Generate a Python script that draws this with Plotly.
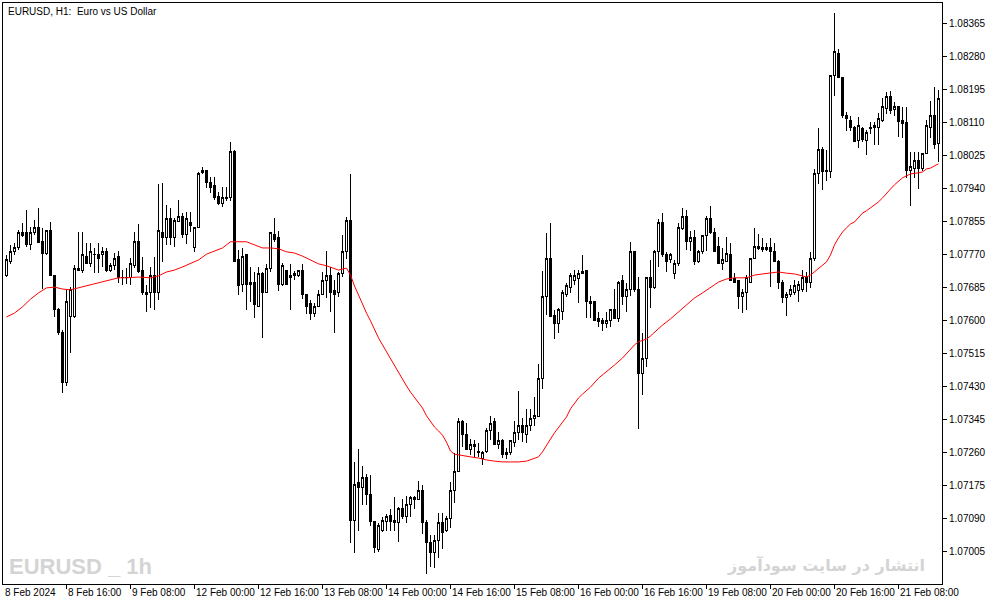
import pandas as pd
import plotly.graph_objects as go

# ---- data (EURUSD H1) ----
OPEN = [1.07717,1.07753,1.07777,1.07788,1.07828,1.07826,1.07795,1.07826,1.07841,1.07803,
        1.07774,1.07831,1.07717,1.07629,1.07570,1.07439,1.07609,1.07609,1.07730,1.07730,
        1.07766,1.07748,1.07771,1.07771,1.07769,1.07777,1.07730,1.07743,1.07764,1.07712,
        1.07710,1.07710,1.07743,1.07803,1.07728,1.07671,1.07671,1.07717,1.07673,1.07828,
        1.07815,1.07864,1.07815,1.07854,1.07867,1.07823,1.07852,1.07787,1.07841,1.07981,
        1.07988,1.07957,1.07947,1.07919,1.07901,1.07916,1.07916,1.08035,1.07756,1.07694,
        1.07769,1.07694,1.07699,1.07637,1.07722,1.07673,1.07733,1.07823,1.07813,1.07692,
        1.07730,1.07715,1.07720,1.07715,1.07730,1.07666,1.07645,1.07619,1.07637,1.07666,
        1.07704,1.07715,1.07676,1.07671,1.07722,1.07779,1.07857,1.07083,1.07181,1.07168,
        1.07194,1.07152,1.07080,1.07008,1.07057,1.07080,1.07098,1.07083,1.07078,1.07114,
        1.07093,1.07124,1.07142,1.07139,1.07162,1.07078,1.07026,1.07000,1.07033,1.07078,
        1.07057,1.07088,1.07162,1.07209,1.07338,1.07307,1.07268,1.07281,1.07263,1.07243,
        1.07261,1.07315,1.07338,1.07279,1.07291,1.07258,1.07258,1.07286,1.07310,1.07328,
        1.07307,1.07328,1.07348,1.07351,1.07449,1.07661,1.07761,1.07614,1.07593,1.07624,
        1.07668,1.07686,1.07702,1.07707,1.07725,1.07728,1.07648,1.07648,1.07604,1.07599,
        1.07591,1.07601,1.07627,1.07606,1.07702,1.07661,1.07679,1.07777,1.07681,1.07464,
        1.07501,1.07712,1.07684,1.07777,1.07852,1.07769,1.07756,1.07722,1.07748,1.07836,
        1.07867,1.07803,1.07813,1.07753,1.07777,1.07818,1.07864,1.07828,1.07790,1.07748,
        1.07753,1.07769,1.07707,1.07702,1.07663,1.07673,1.07697,1.07761,1.07790,1.07787,
        1.07787,1.07787,1.07779,1.07753,1.07697,1.07658,1.07668,1.07673,1.07676,1.07679,
        1.07710,1.07697,1.07759,1.07978,1.08040,1.07988,1.07983,1.08231,1.08290,1.08228,
        1.08130,1.08117,1.08099,1.08063,1.08094,1.08063,1.08094,1.08102,1.08099,1.08117,
        1.08148,1.08179,1.08143,1.08151,1.08117,1.08110,1.07988,1.07993,1.08012,1.07993,
        1.08032,1.08099,1.08130,1.08056]
HIGH = [1.07769,1.07795,1.07800,1.07833,1.07851,1.07885,1.07841,1.07859,1.07890,1.07839,
        1.07833,1.07854,1.07717,1.07632,1.07575,1.07679,1.07686,1.07743,1.07828,1.07828,
        1.07800,1.07800,1.07787,1.07800,1.07790,1.07787,1.07748,1.07774,1.07779,1.07730,
        1.07735,1.07761,1.07828,1.07849,1.07764,1.07692,1.07738,1.07764,1.07952,1.07955,
        1.07898,1.07890,1.07864,1.07911,1.07877,1.07880,1.07880,1.07839,1.07983,1.07996,
        1.07988,1.07970,1.07970,1.07932,1.07944,1.07944,1.08061,1.08040,1.07782,1.07787,
        1.07769,1.07738,1.07725,1.07738,1.07725,1.07746,1.07826,1.07864,1.07831,1.07748,
        1.07730,1.07746,1.07728,1.07730,1.07746,1.07666,1.07653,1.07645,1.07679,1.07725,
        1.07779,1.07738,1.07704,1.07725,1.07821,1.07867,1.07978,1.07235,1.07268,1.07224,
        1.07204,1.07201,1.07083,1.07078,1.07093,1.07101,1.07114,1.07145,1.07119,1.07140,
        1.07147,1.07147,1.07147,1.07186,1.07175,1.07085,1.07046,1.07046,1.07103,1.07103,
        1.07096,1.07183,1.07258,1.07348,1.07343,1.07335,1.07294,1.07291,1.07284,1.07263,
        1.07323,1.07353,1.07348,1.07312,1.07294,1.07271,1.07291,1.07341,1.07418,1.07348,
        1.07372,1.07372,1.07403,1.07488,1.07728,1.07826,1.07852,1.07627,1.07632,1.07679,
        1.07697,1.07722,1.07730,1.07730,1.07769,1.07728,1.07663,1.07648,1.07622,1.07606,
        1.07622,1.07627,1.07681,1.07702,1.07717,1.07697,1.07803,1.07779,1.07712,1.07568,
        1.07712,1.07756,1.07782,1.07862,1.07877,1.07777,1.07774,1.07756,1.07852,1.07890,
        1.07885,1.07831,1.07833,1.07782,1.07818,1.07870,1.07895,1.07839,1.07815,1.07787,
        1.07815,1.07800,1.07722,1.07702,1.07681,1.07717,1.07761,1.07839,1.07823,1.07813,
        1.07800,1.07813,1.07800,1.07756,1.07704,1.07673,1.07692,1.07704,1.07702,1.07730,
        1.07725,1.07777,1.07991,1.08097,1.08048,1.08040,1.08231,1.08393,1.08301,1.08228,
        1.08138,1.08128,1.08102,1.08125,1.08099,1.08092,1.08112,1.08112,1.08135,1.08174,
        1.08190,1.08192,1.08164,1.08151,1.08151,1.08151,1.08035,1.08035,1.08035,1.08032,
        1.08117,1.08166,1.08202,1.08195]
LOW = [1.07712,1.07746,1.07769,1.07782,1.07815,1.07790,1.07782,1.07820,1.07800,1.07681,
       1.07769,1.07717,1.07609,1.07562,1.07413,1.07431,1.07516,1.07606,1.07730,1.07722,
       1.07746,1.07738,1.07722,1.07722,1.07738,1.07725,1.07725,1.07730,1.07697,1.07692,
       1.07694,1.07692,1.07735,1.07722,1.07666,1.07622,1.07632,1.07627,1.07653,1.07751,
       1.07795,1.07795,1.07790,1.07854,1.07813,1.07797,1.07828,1.07777,1.07841,1.07978,
       1.07942,1.07929,1.07911,1.07898,1.07893,1.07908,1.07908,1.07753,1.07666,1.07673,
       1.07627,1.07648,1.07606,1.07637,1.07555,1.07673,1.07725,1.07803,1.07676,1.07689,
       1.07692,1.07627,1.07704,1.07712,1.07655,1.07617,1.07601,1.07609,1.07635,1.07666,
       1.07658,1.07622,1.07568,1.07661,1.07712,1.07759,1.07026,1.07000,1.07057,1.07124,
       1.07124,1.07070,1.07000,1.07003,1.07054,1.07057,1.07057,1.07057,1.07028,1.07088,
       1.07078,1.07093,1.07114,1.07137,1.07049,1.06946,1.06964,1.06961,1.06987,1.07010,
       1.07054,1.07065,1.07129,1.07209,1.07274,1.07266,1.07253,1.07248,1.07248,1.07227,
       1.07258,1.07291,1.07279,1.07268,1.07245,1.07243,1.07253,1.07274,1.07291,1.07286,
       1.07284,1.07315,1.07328,1.07351,1.07423,1.07614,1.07609,1.07552,1.07568,1.07601,
       1.07661,1.07671,1.07692,1.07645,1.07722,1.07606,1.07606,1.07599,1.07583,1.07573,
       1.07581,1.07583,1.07606,1.07596,1.07640,1.07622,1.07663,1.07673,1.07320,1.07408,
       1.07480,1.07632,1.07681,1.07738,1.07764,1.07725,1.07748,1.07707,1.07741,1.07833,
       1.07782,1.07779,1.07743,1.07748,1.07771,1.07779,1.07823,1.07779,1.07746,1.07730,
       1.07753,1.07702,1.07699,1.07630,1.07619,1.07627,1.07697,1.07761,1.07782,1.07777,
       1.07779,1.07686,1.07751,1.07681,1.07645,1.07612,1.07661,1.07666,1.07648,1.07673,
       1.07673,1.07684,1.07753,1.07952,1.07937,1.07960,1.07968,1.08179,1.08226,1.08122,
       1.08089,1.08089,1.08061,1.08045,1.08061,1.08027,1.08081,1.08053,1.08053,1.08112,
       1.08133,1.08133,1.08128,1.08073,1.08071,1.07968,1.07895,1.07968,1.07939,1.07986,
       1.08030,1.08071,1.08043,1.08009]
CLOSE = [1.07756,1.07777,1.07788,1.07828,1.07820,1.07797,1.07828,1.07841,1.07800,1.07774,
         1.07831,1.07717,1.07629,1.07568,1.07439,1.07650,1.07679,1.07733,1.07735,1.07769,
         1.07748,1.07779,1.07769,1.07761,1.07777,1.07730,1.07743,1.07761,1.07712,1.07710,
         1.07712,1.07746,1.07803,1.07725,1.07671,1.07668,1.07717,1.07673,1.07831,1.07815,
         1.07864,1.07815,1.07857,1.07867,1.07823,1.07862,1.07844,1.07839,1.07978,1.07986,
         1.07955,1.07944,1.07916,1.07903,1.07916,1.07914,1.08035,1.07753,1.07689,1.07766,
         1.07694,1.07699,1.07640,1.07722,1.07673,1.07733,1.07826,1.07810,1.07694,1.07743,
         1.07694,1.07712,1.07715,1.07728,1.07668,1.07637,1.07617,1.07637,1.07666,1.07704,
         1.07715,1.07673,1.07668,1.07722,1.07779,1.07857,1.07083,1.07178,1.07168,1.07194,
         1.07150,1.07080,1.07013,1.07072,1.07085,1.07093,1.07080,1.07078,1.07116,1.07093,
         1.07124,1.07142,1.07139,1.07162,1.07078,1.07026,1.07000,1.07033,1.07078,1.07054,
         1.07088,1.07162,1.07209,1.07338,1.07307,1.07268,1.07279,1.07274,1.07258,1.07258,
         1.07317,1.07335,1.07281,1.07291,1.07255,1.07255,1.07289,1.07310,1.07328,1.07310,
         1.07330,1.07346,1.07354,1.07449,1.07663,1.07759,1.07609,1.07593,1.07627,1.07673,
         1.07689,1.07715,1.07715,1.07720,1.07722,1.07648,1.07645,1.07601,1.07596,1.07593,
         1.07601,1.07627,1.07606,1.07699,1.07661,1.07681,1.07777,1.07679,1.07464,1.07503,
         1.07712,1.07684,1.07779,1.07852,1.07769,1.07751,1.07769,1.07748,1.07839,1.07867,
         1.07803,1.07813,1.07753,1.07777,1.07818,1.07864,1.07828,1.07779,1.07748,1.07756,
         1.07774,1.07704,1.07699,1.07663,1.07673,1.07710,1.07761,1.07790,1.07785,1.07782,
         1.07782,1.07777,1.07753,1.07697,1.07658,1.07668,1.07679,1.07689,1.07692,1.07710,
         1.07697,1.07759,1.07978,1.08040,1.07983,1.07983,1.08231,1.08293,1.08226,1.08128,
         1.08120,1.08097,1.08061,1.08102,1.08066,1.08086,1.08099,1.08097,1.08120,1.08151,
         1.08179,1.08141,1.08151,1.08112,1.08107,1.07988,1.07996,1.08012,1.07993,1.08030,
         1.08102,1.08130,1.08053,1.08172]

# moving-average line read at these bars
MA_BAR = [0,2,4,6,8,10,12,14,16,18,20,22,24,26,28,30,33,36,38,40,42,44,46,48,50,52,54,56,58,60,
          62,64,66,68,70,72,74,76,78,80,82,83,85,86,87,88,89,90,91,92,93,94,95,96,97,98,99,100,
          101,102,103,104,105,106,107,108,109,110,111,112,113,114,116,118,120,122,124,126,128,130,
          132,133,134,135,136,137,138,139,140,141,142,143,144,146,148,150,152,154,156,157,158,160,
          161,162,164,166,168,170,172,174,176,178,180,182,185,187,189,191,193,195,197,199,200,201,
          202,203,204,205,206,207,208,209,210,211,212,213,214,215,216,217,218,219,220,221,222,223,
          224,225,226,228,229,230,231,232,233]
MA_VALUE = [1.07609,1.07619,1.07635,1.07655,1.07671,1.07684,1.07686,1.07681,1.07679,1.07684,
            1.07689,1.07694,1.07699,1.07704,1.07710,1.07710,1.07712,1.07710,1.07715,1.07725,
            1.07730,1.07738,1.07746,1.07756,1.07771,1.07779,1.07787,1.07803,1.07803,1.07803,
            1.07795,1.07787,1.07787,1.07785,1.07777,1.07774,1.07766,1.07756,1.07746,1.07741,
            1.07735,1.07730,1.07735,1.07717,1.07689,1.07666,1.07640,1.07619,1.07599,1.07575,
            1.07555,1.07537,1.07519,1.07501,1.07485,1.07464,1.07446,1.07431,1.07415,1.07402,
            1.07387,1.07374,1.07354,1.07338,1.07325,1.07315,1.07304,1.07286,1.07263,1.07255,
            1.07253,1.07250,1.07248,1.07245,1.07240,1.07237,1.07235,1.07235,1.07235,1.07237,
            1.07243,1.07248,1.07261,1.07279,1.07294,1.07310,1.07323,1.07335,1.07351,1.07372,
            1.07387,1.07400,1.07410,1.07428,1.07451,1.07467,1.07485,1.07503,1.07526,1.07537,
            1.07545,1.07552,1.07560,1.07570,1.07588,1.07604,1.07622,1.07640,1.07658,1.07671,
            1.07686,1.07699,1.07707,1.07710,1.07710,1.07717,1.07720,1.07722,1.07725,1.07722,
            1.07720,1.07715,1.07712,1.07717,1.07725,1.07735,1.07743,1.07751,1.07769,1.07795,
            1.07813,1.07828,1.07839,1.07849,1.07854,1.07867,1.07877,1.07883,1.07890,1.07898,
            1.07906,1.07916,1.07929,1.07939,1.07950,1.07960,1.07968,1.07973,1.07978,1.07981,
            1.07983,1.07991,1.07993,1.07999,1.08004]

PRICE_TICKS = [1.07005,1.07090,1.07175,1.07260,1.07345,1.07430,1.07515,1.07600,1.07685,
               1.07770,1.07855,1.07940,1.08025,1.08110,1.08195,1.08280,1.08365]
TIME_TICKS = ["2024-02-08 16:00","2024-02-09 08:00","2024-02-12 00:00","2024-02-12 16:00",
              "2024-02-13 08:00","2024-02-14 00:00","2024-02-14 16:00","2024-02-15 08:00",
              "2024-02-16 00:00","2024-02-16 16:00","2024-02-19 08:00","2024-02-20 00:00",
              "2024-02-20 16:00","2024-02-21 08:00"]
TIME_LABELS = ["8 Feb 16:00","9 Feb 08:00","12 Feb 00:00","12 Feb 16:00","13 Feb 08:00",
               "14 Feb 00:00","14 Feb 16:00","15 Feb 08:00","16 Feb 00:00","16 Feb 16:00",
               "19 Feb 08:00","20 Feb 00:00","20 Feb 16:00","21 Feb 08:00"]
FIRST_LABEL = "8 Feb 2024"
TITLE = "EURUSD, H1:\u00a0 Euro vs US Dollar"

# hourly trading bars (weekends skipped), first bar 8 Feb 2024 01:00
hours = pd.date_range("2024-02-08 01:00", periods=24 * 20, freq="h")
hours = hours[hours.dayofweek < 5][:len(OPEN)]
times = [t.strftime("%Y-%m-%d %H:%M") for t in hours]
idx = list(range(len(OPEN)))
tick_pos = [times.index(t) for t in TIME_TICKS]

FONT = "Liberation Sans, Arial, sans-serif"

fig = go.Figure()
fig.add_trace(go.Candlestick(
    x=idx, open=OPEN, high=HIGH, low=LOW, close=CLOSE, text=times,
    increasing=dict(line=dict(color="black", width=1), fillcolor="white"),
    decreasing=dict(line=dict(color="black", width=1), fillcolor="black"),
    whiskerwidth=0, hoverinfo="skip", showlegend=False))
fig.add_trace(go.Scatter(x=MA_BAR, y=MA_VALUE, mode="lines",
                         line=dict(color="#ff0000", width=1), hoverinfo="skip", showlegend=False))

ann = [dict(text=TITLE, xref="paper", yref="paper", x=0, y=1, xanchor="left", yanchor="top",
            xshift=3, yshift=-1, showarrow=False, font=dict(family=FONT, size=10, color="black")),
       dict(text=FIRST_LABEL, xref="paper", yref="paper", x=0, y=0, xanchor="left", yanchor="top",
            xshift=0, yshift=-1, showarrow=False, font=dict(family=FONT, size=10, color="black")),
       dict(text="<b>EURUSD _ 1h</b>", xref="paper", yref="paper", x=0, y=0, xanchor="left",
            yanchor="bottom", xshift=4, yshift=3, showarrow=False,
            font=dict(family="Liberation Sans Narrow, Liberation Sans", size=22, color="#d4d4d4")),
       dict(text="<b>انتشار در سایت سودآموز</b>", xref="paper", yref="paper", x=1, y=0,
            xanchor="right", yanchor="bottom", xshift=-15, yshift=7, showarrow=False,
            font=dict(family="DejaVu Sans", size=16, color="#d4d4d4"))]
for p, lab in zip(tick_pos, TIME_LABELS):
    ann.append(dict(text=lab, xref="x", yref="paper", x=p, y=0, xanchor="left", yanchor="top",
                    xshift=-1, yshift=-1, showarrow=False,
                    font=dict(family=FONT, size=10, color="black")))

fig.update_layout(
    width=994, height=605, margin=dict(l=3, r=52, t=3, b=21),
    paper_bgcolor="white", plot_bgcolor="white", boxgap=0.5,
    annotations=ann,
    xaxis=dict(range=[-0.875, 233.875], showgrid=False, zeroline=False, showline=True, mirror=True,
               linecolor="black", linewidth=1, ticks="outside", ticklen=4, tickcolor="black",
               tickvals=tick_pos, showticklabels=False, rangeslider=dict(visible=False)),
    yaxis=dict(range=[1.06920, 1.08419], side="right", showgrid=False, zeroline=False,
               showline=True, mirror=True, linecolor="black", linewidth=1, ticks="outside",
               ticklen=4, tickcolor="black", tickvals=PRICE_TICKS, tickformat=".5f",
               tickfont=dict(family=FONT, size=10, color="black")),
)
POST = ("document.body.style.margin='0';"
        "document.querySelectorAll('.boxlayer path').forEach(function(p){"
        "p.style.shapeRendering='crispEdges';});")
fig.write_html("out.html", post_script=POST, config={"displayModeBar": False})
